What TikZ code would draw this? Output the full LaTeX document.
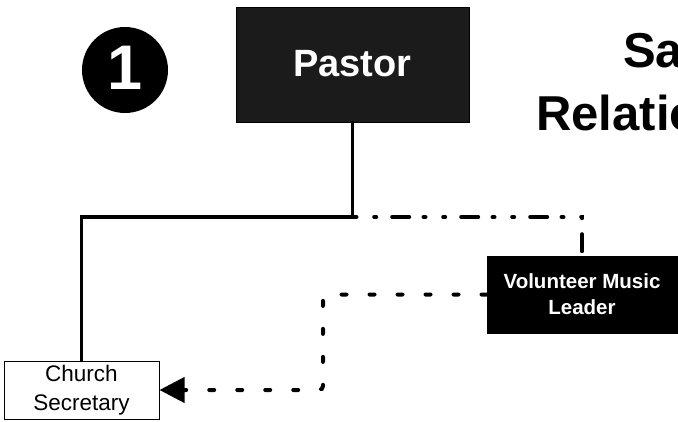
\documentclass[tikz,border=0pt]{standalone}
\usepackage{fontspec}
\setmainfont{Liberation Sans}
\usetikzlibrary{arrows.meta}
\definecolor{boxgray}{HTML}{1B1B1B}
\tikzset{
  darkbox/.style={draw=black, line width=1pt, fill=#1, text=white, font=\bfseries, inner sep=0pt, align=center},
  lightbox/.style={draw=black, line width=1pt, fill=white, text=black, inner sep=0pt, align=center},
  solidlink/.style={line width=3.5pt, line cap=rect},
  dashdotlink/.style={line width=4pt, line cap=round,
    dash pattern=on 17pt off 14.3pt on 2pt off 17.7pt on 2pt off 16pt, dash phase=29.3pt},
  dotlink/.style={line width=4pt, line cap=round, dash pattern=on 5pt off 23pt, rounded corners=4pt},
  titletext/.style={font=\bfseries\fontsize{49}{56}\selectfont, inner sep=0pt, anchor=base west}
}
\begin{document}
\begin{tikzpicture}[x=1pt, y=-1pt]
  \useasboundingbox (0,0) rectangle (678,421);
  \clip (0,0) rectangle (678,421);

  % step number badge
  \node[circle, fill=black, text=white, minimum size=86pt, inner sep=0pt,
        font=\bfseries\fontsize{63}{63}\selectfont] (badge) at (125,70) {\raisebox{4pt}{1}};

  % title (runs off the right edge)
  \node[titletext] (title1) at (623,67) {Sa};
  \node[titletext] (title2) at (536,130) {Relatio};

  % people
  \node[darkbox=boxgray, minimum width=233pt, minimum height=115pt,
        font=\bfseries\fontsize{38}{44}\selectfont] (pastor) at (352.5,64.5) {\raisebox{2pt}{Pastor}};
  \node[darkbox=black, minimum width=190pt, minimum height=77pt,
        font=\bfseries\fontsize{20.5}{26}\selectfont] (music) at (582,294.5) {Volunteer Music\\Leader};
  \node[lightbox, minimum width=155pt, minimum height=58pt,
        font=\fontsize{22.5}{29}\selectfont] (secretary) at (81.5,390) {Church\\Secretary};

  % reporting lines
  \coordinate (split) at (352.5,217);
  \coordinate (bend) at (323,294.5);
  \draw[solidlink] (pastor.south) -- (split) -| (secretary.north);
  \draw[dashdotlink] (split) -| (music.north);
  \draw[dotlink, -{Triangle[length=25pt, width=25pt]}]
    (music.west) -- (bend) -- (bend |- secretary.east) -- (secretary.east);
\end{tikzpicture}
\end{document}
